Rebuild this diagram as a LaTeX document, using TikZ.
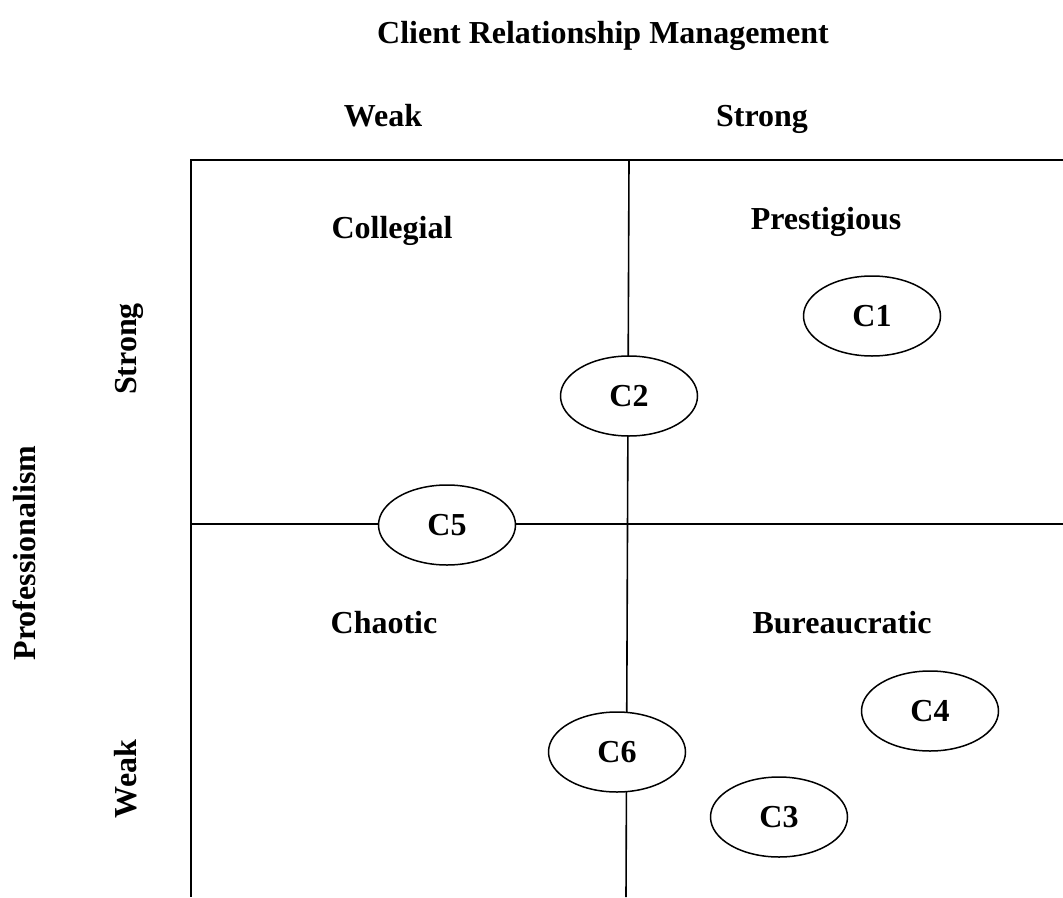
\documentclass[tikz,border=0pt]{standalone}
\usepackage{fontspec}
\setmainfont{Liberation Serif}
\usetikzlibrary{shapes.geometric}
\begin{document}
\begin{tikzpicture}[x=1pt,y=-1pt,
  lbl/.style={font=\fontsize{32}{38}\selectfont\bfseries, inner sep=0pt, anchor=base},
  vlbl/.style={lbl, rotate=90},
  firm/.style={ellipse, draw, line width=1.5pt, fill=white,
    minimum width=137pt, minimum height=80pt, inner sep=0pt,
    font=\fontsize{32}{38}\selectfont\bfseries},
  frame/.style={line width=2pt},
  grid/.style={line width=1.6pt}]
\useasboundingbox (0,0) rectangle (1063,897);

% axis titles
\node[lbl] (title) at (603,43) {Client Relationship Management};
\node[lbl] (crmweak) at (383,126) {Weak};
\node[lbl] (crmstrong) at (762,126) {Strong};
\node[vlbl] (prof) at (35,553) {Professionalism};
\node[vlbl] (profstrong) at (136,349) {Strong};
\node[vlbl] (profweak) at (136,779) {Weak};

% outer frame (open at the right and bottom)
\coordinate (tl) at (191,160);
\coordinate (tr) at (1063,160);
\coordinate (bl) at (191,897);
\draw[frame] (tr) -- (tl) -- (bl);

% quadrant dividers
\coordinate (vtop) at (629,160);
\coordinate (vbot) at (626,897);
\coordinate (hleft) at (191,524);
\coordinate (hright) at (1063,524);
\draw[grid] (vtop) -- (vbot);
\draw[grid] (hleft) -- (hright);

% quadrant names
\node[lbl] (collegial) at (392,238) {Collegial};
\node[lbl] (prestigious) at (826,229) {Prestigious};
\node[lbl] (chaotic) at (384,633) {Chaotic};
\node[lbl] (bureaucratic) at (842,633) {Bureaucratic};

% firms
\node[firm] (c1) at (872,316) {C1};
\node[firm] (c2) at (629,396) {C2};
\node[firm] (c5) at (447,525) {C5};
\node[firm] (c4) at (930,711) {C4};
\node[firm] (c6) at (617,752) {C6};
\node[firm] (c3) at (779,817) {C3};
\end{tikzpicture}
\end{document}
